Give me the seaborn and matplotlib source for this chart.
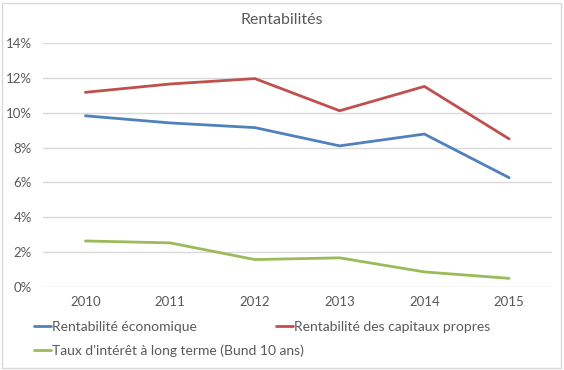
import pandas as pd
import matplotlib.pyplot as plt
import seaborn as sns
from matplotlib.patches import Rectangle
from matplotlib.ticker import PercentFormatter

# data (percent)
years = ['2010', '2011', '2012', '2013', '2014', '2015']
rent_eco = [9.83, 9.42, 9.15, 8.10, 8.78, 6.27]
rent_cap = [11.18, 11.66, 11.97, 10.12, 11.52, 8.50]
taux_lt = [2.63, 2.52, 1.56, 1.66, 0.85, 0.48]

series_names = ['Rentabilité économique',
                'Rentabilité des capitaux propres',
                "Taux d'intérêt à long terme (Bund 10 ans)"]
colors = ['#4F81BD', '#C0504D', '#9BBB59']

df = pd.DataFrame({
    'Année': years * 3,
    'Valeur': rent_eco + rent_cap + taux_lt,
    'Série': [series_names[0]] * 6 + [series_names[1]] * 6 + [series_names[2]] * 6,
})

sns.set_style('white')
plt.rcParams['font.family'] = ['Lato', 'DejaVu Sans']
text_grey = '#595959'
grid_grey = '#D9D9D9'

fig = plt.figure(figsize=(5.64, 3.70), dpi=100)
ax = fig.add_axes([43 / 564, 1 - 286.7 / 370, (551.5 - 43) / 564, (286.7 - 43.3) / 370])

sns.lineplot(data=df, x='Année', y='Valeur', hue='Série', palette=colors,
             linewidth=2.0, ax=ax, legend=False, sort=False)

ax.set_xlim(-0.5, 5.5)
ax.set_ylim(0, 14)
ax.set_yticks(range(0, 15, 2))
ax.yaxis.set_major_formatter(PercentFormatter(decimals=0))
ax.grid(axis='y', color=grid_grey, linewidth=1)
ax.grid(axis='x', visible=False)
ax.set_axisbelow(True)
for s in ax.spines.values():
    s.set_visible(False)
ax.tick_params(length=0, labelsize=9.5, colors=text_grey, pad=7)
ax.tick_params(axis='y', pad=8)
ax.set_xlabel('')
ax.set_ylabel('')

fig.text(282 / 564, 1 - 20 / 370, 'Rentabilités', ha='center', va='center',
         fontsize=11.5, color=text_grey)

# legend: row-major order (blue, red / green)
handles = [plt.Line2D([], [], color=c, linewidth=2) for c in colors]
order = [0, 2, 1]
leg = fig.legend([handles[i] for i in order], [series_names[i] for i in order],
                 ncol=2, loc='upper left', bbox_to_anchor=(34 / 564, 1 - 321 / 370),
                 frameon=False, fontsize=10, handlelength=1.2, handletextpad=0.1,
                 columnspacing=-2.0, labelspacing=0.85, borderaxespad=0, borderpad=0)
for t in leg.get_texts():
    t.set_color(text_grey)

# chart border
fig.patches.append(Rectangle((2 / 564, 2 / 370), 559 / 564, 365 / 370,
                             transform=fig.transFigure, fill=False,
                             edgecolor=grid_grey, linewidth=1))

fig.savefig('out.png', dpi=100)
